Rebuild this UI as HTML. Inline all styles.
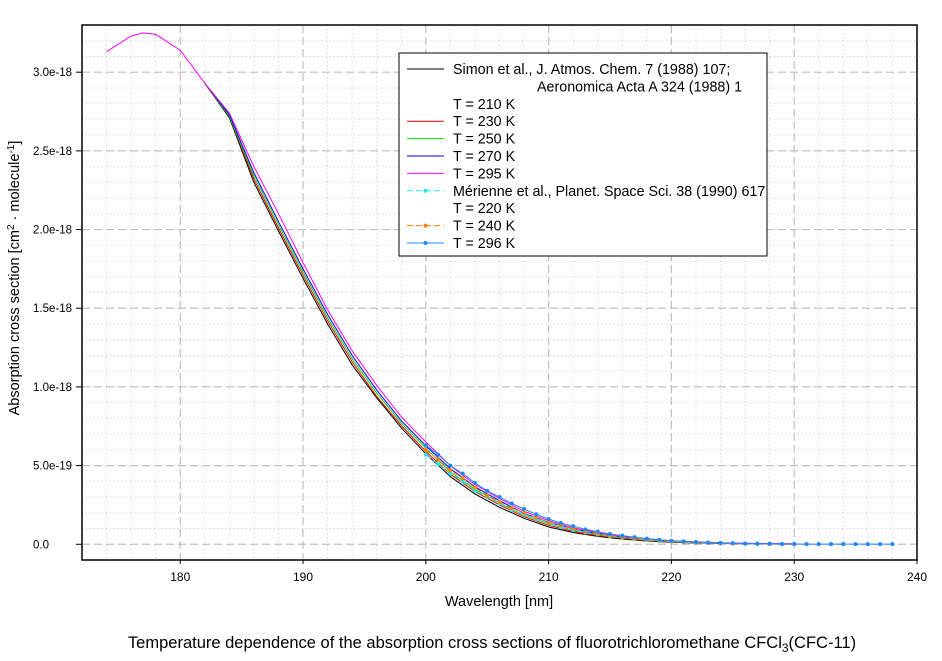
<!DOCTYPE html>
<html><head><meta charset="utf-8"><style>
html,body{margin:0;padding:0;background:#fff;}
svg{display:block;font-family:"Liberation Sans",Arial,sans-serif;}
</style></head><body>
<svg id="chart" width="942" height="661" viewBox="0 0 942 661">
<g id="grid"></g>
<g id="series"></g>
<rect x="82" y="25" width="835" height="535" fill="none" stroke="#000" stroke-width="1.5"/>
<g id="axes"></g>
<text x="499" y="606" font-size="14.5" text-anchor="middle">Wavelength [nm]</text>
<text transform="translate(19,278) rotate(-90)" font-size="14.5" text-anchor="middle">Absorption cross section [cm<tspan dy="-5" font-size="10">2</tspan><tspan dy="5"> · molecule</tspan><tspan dy="-5" font-size="10">-1</tspan><tspan dy="5">]</tspan></text>
<text x="492" y="648" font-size="16.5" text-anchor="middle">Temperature dependence of the absorption cross sections of fluorotrichloromethane CFCl<tspan dy="4" font-size="12">3</tspan><tspan dy="-4">(CFC-11)</tspan></text>
<g id="legend"></g>
</svg>
<script>
const xTicks=[180,190,200,210,220,230,240];
const yTicks=[0,0.5,1.0,1.5,2.0,2.5,3.0];
const yTickLabels=["0.0","5.0e-19","1.0e-18","1.5e-18","2.0e-18","2.5e-18","3.0e-18"];
const simonWl=[182,184,186,188,190,192,194,196,198,200,202,204,206,208,210,212,214,216,218,220,222,224,226,228,230];
const s210=[2.93,2.71,2.30,1.99,1.69,1.40,1.14,0.93,0.74,0.575,0.43,0.32,0.235,0.165,0.11,0.075,0.05,0.033,0.021,0.013,0.008,0.005,0.003,0.002,0.001];
const s230=[2.93,2.72,2.32,2.01,1.71,1.42,1.16,0.94,0.755,0.59,0.445,0.335,0.25,0.175,0.12,0.082,0.055,0.037,0.024,0.015,0.009,0.006,0.004,0.002,0.001];
const s250=[2.93,2.72,2.34,2.03,1.73,1.44,1.18,0.96,0.77,0.61,0.46,0.35,0.262,0.185,0.13,0.09,0.06,0.041,0.027,0.017,0.011,0.007,0.004,0.003,0.002];
const s270=[2.93,2.73,2.36,2.05,1.75,1.46,1.20,0.98,0.785,0.625,0.48,0.365,0.277,0.197,0.14,0.098,0.067,0.046,0.031,0.02,0.013,0.008,0.005,0.003,0.002];
const s295Wl=[174,176,177,178,180,182,184,186,188,190,192,194,196,198,200,202,204,206,208,210,212,214,216,218,220,222,224,226,228,230];
const s295=[3.13,3.23,3.25,3.24,3.14,2.93,2.74,2.40,2.10,1.79,1.49,1.23,1.01,0.81,0.65,0.50,0.38,0.29,0.21,0.15,0.105,0.073,0.05,0.034,0.022,0.015,0.009,0.006,0.004,0.003];
const m296Wl=[200,201,202,203,204,205,206,207,208,209,210,211,212,213,214,215,216,217,218,219,220,221,222,223,224,225,226,227,228,229,230,231,232,233,234,235,236,237,238];
const m296=[0.63,0.57,0.50,0.45,0.39,0.34,0.30,0.26,0.225,0.19,0.16,0.135,0.115,0.095,0.08,0.065,0.055,0.045,0.036,0.029,0.023,0.018,0.014,0.011,0.009,0.007,0.005,0.004,0.003,0.002,0.002,0.001,0.001,0.001,0.001,0.001,0.001,0.001,0.001];
const m240Wl=[200,201,202,203,204,205,206,207,208,209,210,211,212,213,214,215,216,217,218,219,220,221,222,223,224,225,226,227,228,229,230,231,232,233,234];
const m240=[0.60,0.54,0.47,0.42,0.36,0.31,0.27,0.23,0.20,0.17,0.14,0.12,0.10,0.082,0.068,0.055,0.046,0.037,0.03,0.024,0.019,0.015,0.011,0.009,0.007,0.005,0.004,0.003,0.002,0.002,0.001,0.001,0.001,0.001,0.001];
const m220Wl=[200,201,202,203,204,205,206,207,208,209,210,211,212,213,214,215,216,217,218,219,220,221,222,223,224,225,226,227,228,229];
const m220=[0.57,0.51,0.45,0.40,0.34,0.30,0.26,0.22,0.19,0.16,0.135,0.11,0.09,0.075,0.062,0.05,0.042,0.034,0.027,0.021,0.017,0.013,0.01,0.008,0.006,0.004,0.003,0.002,0.002,0.001];

const NS="http://www.w3.org/2000/svg";
const X0=82,X1=917,Y0=25,Y1=560,xmin=172,xmax=240,ymin=-0.1,ymax=3.3;
const xs=v=>X0+(v-xmin)/(xmax-xmin)*(X1-X0);
const ys=v=>Y1-(v-ymin)/(ymax-ymin)*(Y1-Y0);
function mk(tag,attrs,parent){const e=document.createElementNS(NS,tag);for(const k in attrs)e.setAttribute(k,attrs[k]);parent.appendChild(e);return e;}
const grid=document.getElementById('grid'),axes=document.getElementById('axes'),ser=document.getElementById('series'),leg=document.getElementById('legend');
for(let v=174;v<=238;v+=2){const major=v%10===0;const l=mk('line',{x1:xs(v),x2:xs(v),y1:Y0,y2:Y1,stroke:major?'#c0c0c0':'#c8c8c8','stroke-width':major?1.2:1,'stroke-dasharray':major?'8,4':'1,3'},grid);
}
for(let i=0;i<=33;i++){const v=i/10;const major=i%5===0;const l=mk('line',{x1:X0,x2:X1,y1:ys(v),y2:ys(v),stroke:major?'#c0c0c0':'#c8c8c8','stroke-width':major?1.2:1,'stroke-dasharray':major?'8,4':'1,3'},grid);
}
xTicks.forEach(v=>{const t=mk('line',{x1:xs(v),x2:xs(v),y1:Y1,y2:Y1+4,stroke:'#000'},axes);
const tx=mk('text',{x:xs(v),y:Y1+21,'font-size':12,'text-anchor':'middle'},axes);tx.textContent=v;});
yTicks.forEach((v,i)=>{const t=mk('line',{x1:X0-6,x2:X0,y1:ys(v),y2:ys(v),stroke:'#000'},axes);
const tx=mk('text',{x:33,y:ys(v)+4,'font-size':11.5,'text-anchor':'start'},axes);tx.textContent=yTickLabels[i];});
function line(wl,vals,color,dash,markers,name){const d=wl.map((w,i)=>(i?'L':'M')+xs(w).toFixed(1)+','+ys(vals[i]).toFixed(1)).join('');
const p=mk('path',{d:d,fill:'none',stroke:color,'stroke-width':1,'stroke-dasharray':dash||'none'},ser);
if(markers)wl.forEach((w,i)=>{const c=mk('circle',{cx:xs(w),cy:ys(vals[i]),r:2,fill:color},ser);});}
line(simonWl,s210,'#000','',false,'series-simon-210k');
line(simonWl,s230,'#ff0000','',false,'series-simon-230k');
line(simonWl,s250,'#00e000','',false,'series-simon-250k');
line(simonWl,s270,'#0000ff','',false,'series-simon-270k');
line(s295Wl,s295,'#ff00ff','',false,'series-simon-295k');
line(m220Wl,m220,'#20e8e8','6,3',true,'series-merienne-220k');
line(m240Wl,m240,'#ff8000','6,3',true,'series-merienne-240k');
line(m296Wl,m296,'#1e88ff','',true,'series-merienne-296k');
const lb=mk('rect',{x:399,y:53,width:368,height:203,fill:'#fff',stroke:'#000','stroke-width':1},leg);
const legItems=[["Simon et al., J. Atmos. Chem. 7 (1988) 107;","#000","",false,453],["Aeronomica Acta A 324 (1988) 1",null,"",false,537],["T = 210 K",null,"",false,453],["T = 230 K","#ff0000","",false,453],["T = 250 K","#00e000","",false,453],["T = 270 K","#0000ff","",false,453],["T = 295 K","#ff00ff","",false,453],["Mérienne et al., Planet. Space Sci. 38 (1990) 617","#20e8e8","6,3",true,453],["T = 220 K",null,"",false,453],["T = 240 K","#ff8000","6,3",true,453],["T = 296 K","#1e88ff","",true,453]];
legItems.forEach((it,i)=>{const y=69+i*17.4;
if(it[1]){const l=mk('line',{x1:407,x2:444,y1:y,y2:y,stroke:it[1],'stroke-dasharray':it[2]||'none'},leg);
if(it[3]){const c=mk('circle',{cx:425.5,cy:y,r:2,fill:it[1]},leg);}}
const t=mk('text',{x:it[4],y:y+5,'font-size':14.3},leg);t.textContent=it[0];});
</script>
</body></html>
